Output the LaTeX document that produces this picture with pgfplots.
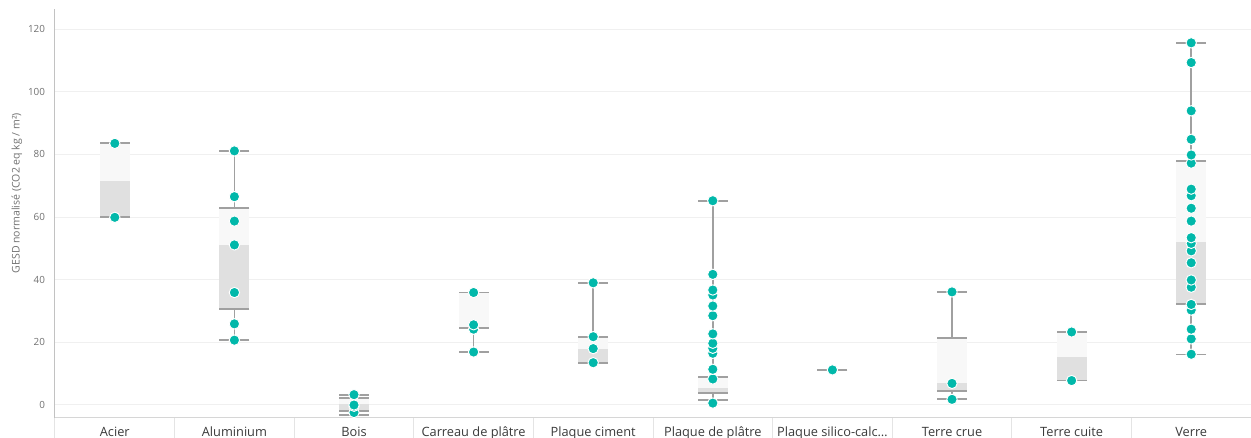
\documentclass[border=0pt]{standalone}
\usepackage{fontspec}
\setmainfont{Open Sans}
\usepackage{pgfplots}
\pgfplotsset{compat=1.18}
\definecolor{ptc}{HTML}{01B8AA}
\definecolor{capg}{HTML}{A0A0A0}
\definecolor{boxd}{HTML}{E0E0E0}
\definecolor{boxl}{HTML}{F8F8F8}
\definecolor{gridc}{HTML}{F0F0F0}
\definecolor{sepc}{HTML}{E4E4E4}
\definecolor{ytl}{HTML}{707070}
\definecolor{xtl}{HTML}{3A3A3A}
\begin{document}
\begin{tikzpicture}
\path[use as bounding box] (-41.25pt,-15pt) rectangle (897pt,313.5pt);
\begin{axis}[
  scale only axis, width=897pt, height=306.75pt,
  xmin=-0.5, xmax=9.5, ymin=-4.15, ymax=126.4,
  axis x line*=bottom, axis y line*=left,
  x axis line style={draw=black!16, line width=0.75pt},
  y axis line style={draw=black!24, line width=0.75pt},
  ytick={0,20,...,120},
  ymajorgrids, grid style={draw=gridc, line width=0.75pt},
  xtick={0,...,9},
  xticklabels={Acier,Aluminium,Bois,Carreau de plâtre,Plaque ciment,Plaque de plâtre,Plaque silico-calc…,Terre crue,Terre cuite,Verre},
  minor xtick={-0.5,0.5,...,9.5},
  major tick length=0pt,
  minor tick length=15pt,
  tick align=outside,
  minor tick style={draw=sepc, line width=0.75pt},
  xticklabel style={font=\fontsize{9.6}{11}\selectfont, text=xtl, anchor=base, yshift=-13.8pt},
  yticklabel style={font=\fontsize{7.4}{9}\selectfont, text=ytl, anchor=east, xshift=-4pt},
  /pgf/number format/assume math mode=true,
  ylabel={GESD normalisé (CO2 eq kg / m²)},
  ylabel style={font=\fontsize{7.9}{9}\selectfont, text=ytl, at={(axis description cs:-0.0318,0.55)}, anchor=center},
  clip=false,
]
% whiskers (min to max)
\addplot[draw=capg, line width=1.1pt, unbounded coords=jump] coordinates {
(0,59.9)(0,83.5)(0,nan)
(1,20.7)(1,81.1)(1,nan)
(2,-3.2)(2,3.2)(2,nan)
(3,16.9)(3,35.9)(3,nan)
(4,13.5)(4,39.0)(4,nan)
(5,1.6)(5,65.2)(5,nan)
(7,1.8)(7,36.1)(7,nan)
(8,7.8)(8,23.3)(8,nan)
(9,16.1)(9,115.6)};
% boxes: dark = Q1..median, light = median..Q3
\addplot[fill=boxd, draw=none] coordinates {(-0.125,59.9)(0.125,59.9)(0.125,71.6)(-0.125,71.6)} -- cycle;
\addplot[fill=boxl, draw=none] coordinates {(-0.125,71.6)(0.125,71.6)(0.125,83.5)(-0.125,83.5)} -- cycle;
\addplot[fill=boxd, draw=none] coordinates {(0.875,30.7)(1.125,30.7)(1.125,51.1)(0.875,51.1)} -- cycle;
\addplot[fill=boxl, draw=none] coordinates {(0.875,51.1)(1.125,51.1)(1.125,62.8)(0.875,62.8)} -- cycle;
\addplot[fill=boxd, draw=none] coordinates {(1.875,-1.8)(2.125,-1.8)(2.125,0.3)(1.875,0.3)} -- cycle;
\addplot[fill=boxl, draw=none] coordinates {(1.875,0.3)(2.125,0.3)(2.125,2.1)(1.875,2.1)} -- cycle;
\addplot[fill=boxl, draw=none] coordinates {(2.875,24.5)(3.125,24.5)(3.125,35.9)(2.875,35.9)} -- cycle;
\addplot[fill=boxd, draw=none] coordinates {(3.875,13.5)(4.125,13.5)(4.125,17.9)(3.875,17.9)} -- cycle;
\addplot[fill=boxl, draw=none] coordinates {(3.875,17.9)(4.125,17.9)(4.125,21.8)(3.875,21.8)} -- cycle;
\addplot[fill=boxd, draw=none] coordinates {(4.875,3.7)(5.125,3.7)(5.125,5.3)(4.875,5.3)} -- cycle;
\addplot[fill=boxl, draw=none] coordinates {(4.875,5.3)(5.125,5.3)(5.125,9.0)(4.875,9.0)} -- cycle;
\addplot[fill=boxd, draw=none] coordinates {(6.875,4.5)(7.125,4.5)(7.125,6.9)(6.875,6.9)} -- cycle;
\addplot[fill=boxl, draw=none] coordinates {(6.875,6.9)(7.125,6.9)(7.125,21.5)(6.875,21.5)} -- cycle;
\addplot[fill=boxd, draw=none] coordinates {(7.875,7.8)(8.125,7.8)(8.125,15.3)(7.875,15.3)} -- cycle;
\addplot[fill=boxl, draw=none] coordinates {(7.875,15.3)(8.125,15.3)(8.125,23.3)(7.875,23.3)} -- cycle;
\addplot[fill=boxd, draw=none] coordinates {(8.875,32.1)(9.125,32.1)(9.125,52.1)(8.875,52.1)} -- cycle;
\addplot[fill=boxl, draw=none] coordinates {(8.875,52.1)(9.125,52.1)(9.125,77.8)(8.875,77.8)} -- cycle;
% caps (min, Q1, Q3, max)
\addplot[only marks, mark=-, mark size=11.2pt, mark options={draw=capg, line width=1.4pt}] coordinates {
(0,83.5)(0,59.9)
(1,81.1)(1,62.8)(1,30.7)(1,20.7)
(2,3.2)(2,2.1)(2,-1.8)(2,-3.2)
(3,35.9)(3,24.5)(3,16.9)
(4,39.0)(4,21.8)(4,13.5)
(5,65.2)(5,9.0)(5,3.7)(5,1.6)
(6,11.2)
(7,36.1)(7,21.5)(7,4.5)(7,1.8)
(8,23.3)(8,7.8)
(9,115.6)(9,77.8)(9,32.1)(9,16.1)};
% individual values
\addplot[only marks, mark=*, mark size=3.9pt, mark options={fill=ptc, draw=white, line width=0.7pt}] coordinates {
(0,59.9)(0,83.5)
(1,20.7)(1,25.9)(1,35.9)(1,51.1)(1,58.7)(1,66.5)(1,81.1)
(2,-2.4)(2,-0.4)(2,0.0)(2,3.3)
(3,16.9)(3,24.2)(3,25.6)(3,35.9)
(4,13.5)(4,18.0)(4,21.8)(4,39.0)
(5,0.6)(5,8.3)(5,11.4)(5,16.5)(5,18.1)(5,19.7)(5,22.7)(5,28.5)(5,31.6)(5,35.1)(5,36.7)(5,41.7)(5,65.2)
(6,11.2)
(7,1.8)(7,6.9)(7,36.1)
(8,7.8)(8,23.3)
(9,16.2)(9,21.1)(9,24.2)(9,30.3)(9,32.1)(9,37.6)(9,39.9)(9,45.4)(9,49.2)(9,51.6)(9,53.4)(9,58.7)(9,62.8)(9,66.8)(9,68.9)(9,77.2)(9,79.8)(9,84.8)(9,93.9)(9,109.3)(9,115.6)};
\end{axis}
\end{tikzpicture}
\end{document}
